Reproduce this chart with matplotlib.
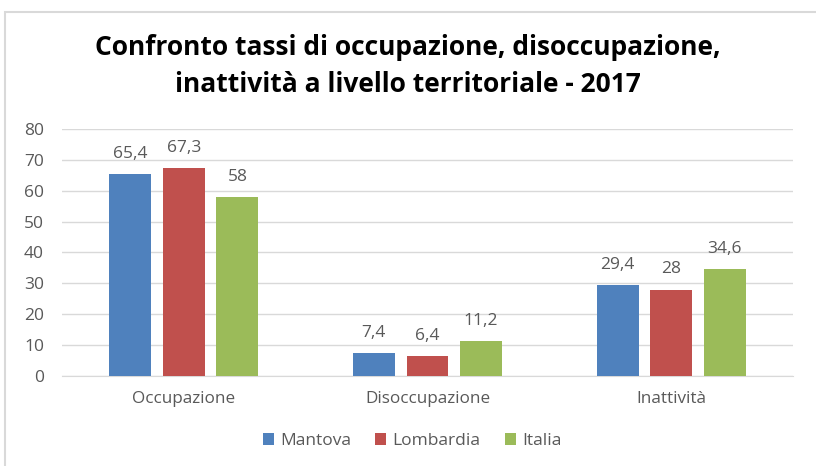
import matplotlib
matplotlib.use("Agg")
import matplotlib.pyplot as plt
import numpy as np
from matplotlib.patches import Rectangle

categories = ["Occupazione", "Disoccupazione", "Inattività"]
series_names = ["Mantova", "Lombardia", "Italia"]
mantova = [65.4, 7.4, 29.4]
lombardia = [67.3, 6.4, 28]
italia = [58, 11.2, 34.6]
colors = ["#4f81bd", "#c0504d", "#9bbb59"]
yticks = [0, 10, 20, 30, 40, 50, 60, 70, 80]

plt.rcParams['font.family'] = ['Open Sans', 'DejaVu Sans']

W, H = 816, 466
fig = plt.figure(figsize=(W/100, H/100), dpi=100)
fig.patches.append(Rectangle((5/W, 0 - 0.01), 1.0, (H-12)/H + 0.01, transform=fig.transFigure,
                             fill=False, edgecolor="#d9d9d9", linewidth=1.5))

ax = fig.add_axes([62/W, 1 - 376/H, (793-62)/W, (376-129)/H])
x = np.arange(len(categories))
bw = 0.172
step = 0.22
gray = "#595959"

def fmt(v):
    return ("%g" % v).replace(".", ",")

for i, (vals, name, c) in enumerate(zip([mantova, lombardia, italia], series_names, colors)):
    pos = x + (i - 1) * step
    ax.bar(pos, vals, bw, color=c, label=name, zorder=3)
    for p, v in zip(pos, vals):
        ax.annotate(fmt(v), (p, v), xytext=(0, 14.5), textcoords="offset points",
                    ha="center", va="center", fontsize=12.5, color=gray)

ax.set_xlim(-0.5, 2.5)
ax.set_ylim(0, 80)
ax.set_yticks(yticks)
ax.set_xticks(x)
ax.set_xticklabels(categories)
ax.tick_params(axis="both", length=0, labelsize=12.5, labelcolor=gray)
ax.tick_params(axis="x", pad=11, labelsize=12.3)
ax.tick_params(axis="y", pad=13)
ax.grid(axis="y", color="#d9d9d9", linewidth=1, zorder=0)
for s in ["top", "right", "left"]:
    ax.spines[s].set_visible(False)
ax.spines["bottom"].set_color("#d9d9d9")

fig.text(0.5, 1 - 66/H, "Confronto tassi di occupazione, disoccupazione,\ninattività a livello territoriale - 2017",
         ha="center", va="center", fontsize=19, fontweight="bold", color="black", linespacing=1.45)

leg = fig.legend(loc="center", bbox_to_anchor=(0.505, 1 - 441/H), ncol=3, frameon=False,
                 fontsize=12.5, handlelength=0.65, handleheight=0.65, handletextpad=0.35, columnspacing=1.4)
for t in leg.get_texts():
    t.set_color(gray)

fig.savefig("out.png", dpi=100)
